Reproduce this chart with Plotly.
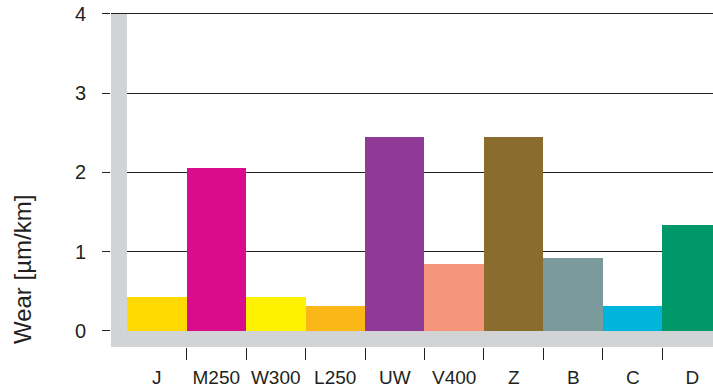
import plotly.graph_objects as go

categories = ["J", "M250", "W300", "L250", "UW", "V400", "Z", "B", "C", "D"]
wear = [0.43, 2.06, 0.43, 0.31, 2.45, 0.85, 2.45, 0.92, 0.31, 1.34]
colors = ["#FFD900", "#DA0B8C", "#FFF200", "#FBB617", "#8E3A96",
          "#F6957A", "#8A6D2E", "#7A9A9B", "#00B4DC", "#009869"]

y_ticks = [0, 1, 2, 3, 4]

ink = "#231F20"
strip = "#D1D3D4"
font = "Liberation Sans, Arial, sans-serif"

# axis ranges: a little room on the left / bottom for the grey frame
x_lo, x_hi = -0.769, 9.349
y_lo, y_hi = -0.202, 4.05

xs = list(range(len(categories)))
bounds = [i + 0.5 for i in xs[:-1]]

fig = go.Figure()
fig.add_trace(go.Bar(x=xs, y=wear, width=1, marker=dict(color=colors, line=dict(width=0)),
                     hoverinfo="skip", showlegend=False))
# dummy trace so the boundary tick axis gets drawn
fig.add_trace(go.Scatter(x=[0], y=[0], xaxis="x2", mode="markers",
                         marker=dict(opacity=0), hoverinfo="skip", showlegend=False))

# grey frame on left and bottom
fig.add_shape(type="rect", xref="x", yref="y", x0=x_lo, x1=-0.5, y0=y_lo, y1=4,
              fillcolor=strip, line=dict(width=0), layer="above")
fig.add_shape(type="rect", xref="x", yref="y", x0=x_lo, x1=x_hi, y0=y_lo, y1=0,
              fillcolor=strip, line=dict(width=0), layer="above")

fig.add_annotation(text="Wear [µm/km]", xref="paper", yref="paper", x=-0.148, y=0.231,
                   textangle=-90, showarrow=False, xanchor="center", yanchor="middle",
                   font=dict(size=24, color=ink, family=font))

fig.update_layout(
    width=713, height=390,
    margin=dict(l=111, r=0, t=10, b=43),
    paper_bgcolor="white", plot_bgcolor="white",
    bargap=0,
    font=dict(family=font, color=ink, size=18),
    xaxis=dict(range=[x_lo, x_hi], tickvals=xs, ticktext=categories, ticks="",
               showgrid=False, zeroline=False, showline=False, ticklabelstandoff=17,
               tickfont=dict(size=19, color=ink)),
    xaxis2=dict(range=[x_lo, x_hi], overlaying="x", side="bottom", tickvals=bounds,
                showticklabels=False, ticks="outside", ticklen=12, tickwidth=1,
                tickcolor=ink, showgrid=False, zeroline=False, showline=False),
    yaxis=dict(range=[y_lo, y_hi], tickvals=y_ticks, ticks="outside", ticklen=8,
               tickwidth=1, tickcolor=ink, showgrid=True, gridcolor=ink, gridwidth=1,
               zeroline=False, showline=False, ticklabelstandoff=12,
               tickfont=dict(size=20, color=ink)),
)

fig.write_html("out.html", config={"displayModeBar": False},
               post_script="document.body.style.margin='0';")
